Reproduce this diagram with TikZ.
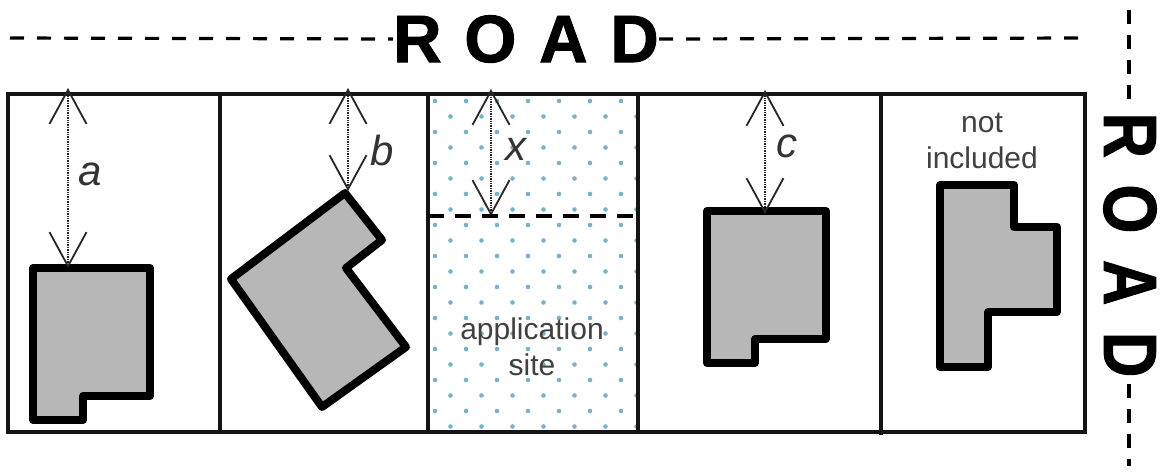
\documentclass[tikz,border=0pt]{standalone}
\usepackage{fontspec}
\setmainfont{Liberation Sans}
\newfontfamily\roadfont{Liberation Sans}[BoldFeatures={FakeBold=1.4}]
\usetikzlibrary{arrows.meta}
\definecolor{bldg}{RGB}{183,183,183}
\definecolor{dotc}{RGB}{120,178,200}
\newcommand{\roadh}{R\hspace{0.34em}O\hspace{0.34em}A\hspace{0.34em}D}
\newcommand{\roadv}{\scalebox{0.84}[1]{R\hspace{0.42em}O\hspace{0.42em}A\hspace{0.42em}D}}
\tikzset{
  plot/.style={line width=3.4pt,draw=black!92},
  bldgshape/.style={line width=8pt,draw=black,fill=bldg,line join=round},
  roaddash/.style={line width=3.2pt,dash pattern=on 14pt off 13pt},
  roaddashv/.style={line width=3.2pt,dash pattern=on 14pt off 11pt},
  dimline/.style={line width=1.4pt,densely dotted,draw=black!85,
    {Straight Barb[length=34pt,width=37pt,line width=1.8pt]}-{Straight Barb[length=34pt,width=37pt,line width=1.8pt]}},
  roadtxt/.style={font=\roadfont\bfseries\fontsize{67}{67}\selectfont,inner sep=0pt},
  roadtxtv/.style={font=\roadfont\bfseries\fontsize{75}{75}\selectfont,inner sep=0pt},
  varl/.style={font=\itshape\fontsize{42}{42}\selectfont,inner sep=0pt,text=black!80},
  smalltxt/.style={font=\fontsize{30}{36}\selectfont,align=center,inner sep=0pt,text=black!75}
}
\begin{document}
\begin{tikzpicture}[x=1pt,y=-1pt]
\useasboundingbox (0,0) rectangle (1162,472);
% dotted site
\begin{scope}
\clip (428,94) rectangle (638,432);
\foreach \i in {0,...,7}{
 \foreach \j in {0,...,11}{
  \fill[dotc] ({435+31*\i},{101+31*\j}) circle (2.3pt);
  \fill[dotc] ({450.5+31*\i},{116.5+31*\j}) circle (2.3pt);
 }}
\end{scope}
% plots
\draw[plot] (8,94) rectangle (1085,432);
\draw[plot] (220,94) -- (220,432);
\draw[plot] (428,94) -- (428,432);
\draw[plot] (638,94) -- (638,432);
\draw[plot] (881,94) -- (881,435);
% road
\node[roadtxt] (roadh) at (526,39) {\roadh};
\coordinate (rhl) at (10,38); \coordinate (rhr) at (1085,38);
\draw[roaddash] (rhl) -- (roadh.west);
\draw[roaddash] (roadh.east) -- (rhr);
\node[roadtxtv,rotate=-90] (roadv) at (1130,245) {\roadv};
\coordinate (rvt) at (1129,10); \coordinate (rvtend) at (1129,100);
\coordinate (rvbstart) at (1129,384); \coordinate (rvb) at (1129,466);
\draw[roaddashv] (rvt) -- (rvtend);
\draw[roaddashv] (rvbstart) -- (rvb);
% buildings
\draw[bldgshape] (33,268) -- (150,268) -- (150,396) -- (83,396) -- (83,420) -- (33,420) -- cycle;
\draw[bldgshape] (345,193) -- (382,240) -- (346,268) -- (406,347) -- (322,407) -- (231,279) -- cycle;
\draw[bldgshape] (707,211) -- (826,211) -- (826,339) -- (755,339) -- (755,363) -- (707,363) -- cycle;
\draw[bldgshape] (940,185) -- (1014,185) -- (1014,227) -- (1057,227) -- (1057,312) -- (988,312) -- (988,367) -- (940,367) -- cycle;
% dimensions
\coordinate (at) at (68,88); \coordinate (ab) at (68,268);
\coordinate (bt) at (348,88); \coordinate (bb) at (348,191);
\coordinate (xt) at (491,89); \coordinate (xb) at (491,216);
\coordinate (ct) at (765,90); \coordinate (cb) at (765,214);
\draw[dimline] (at) -- (ab);
\draw[dimline] (bt) -- (bb);
\draw[dimline] (xt) -- (xb);
\draw[dimline] (ct) -- (cb);
% dashed setback line
\coordinate (dl) at (428,216); \coordinate (dr) at (638,216);
\draw[line width=3.2pt,dash pattern=on 16pt off 11pt] (dl) -- (dr);
% labels
\node[varl] (la) at (90,174) {a};
\node[varl] (lb) at (382,150) {b};
\node[varl] (lx) at (516,149) {x};
\node[varl] (lc) at (787,146) {c};
\node[smalltxt] (nin) at (982,141) {not\\included};
\node[smalltxt] (app) at (532,347) {application\\site};
\end{tikzpicture}
\end{document}
